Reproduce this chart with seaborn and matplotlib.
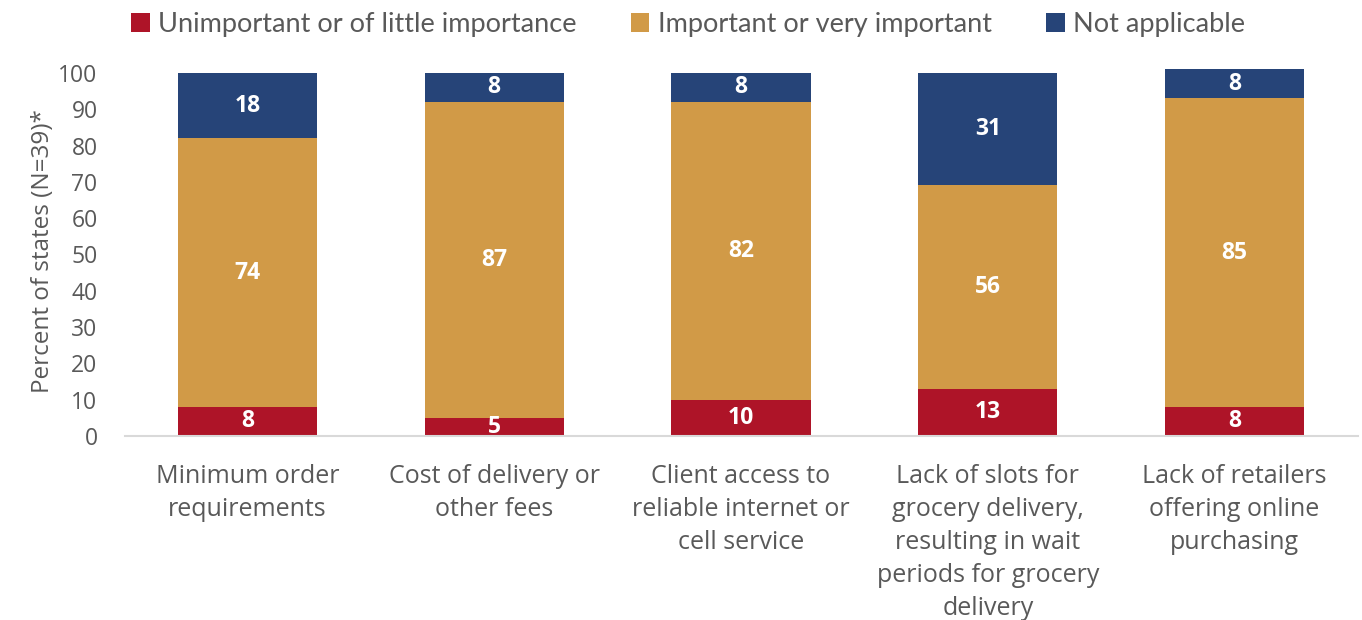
import matplotlib
matplotlib.use("Agg")
import matplotlib.pyplot as plt
import seaborn as sns
import pandas as pd
from matplotlib.patches import Patch

categories = [
    "Minimum order\nrequirements",
    "Cost of delivery or\nother fees",
    "Client access to\nreliable internet or\ncell service",
    "Lack of slots for\ngrocery delivery,\nresulting in wait\nperiods for grocery\ndelivery",
    "Lack of retailers\noffering online\npurchasing",
]
unimportant = [8, 5, 10, 13, 8]
important = [74, 87, 82, 56, 85]
not_applicable = [18, 8, 8, 31, 8]
series_names = ["Unimportant or of little importance", "Important or very important", "Not applicable"]
colors = ["#AE1428", "#D19A47", "#264478"]
yticks = list(range(0, 101, 10))

sns.set_theme(style="white")
plt.rcParams["font.family"] = ["Open Sans", "DejaVu Sans"]
gray = "#595959"

df = pd.DataFrame({"cat": categories, "u": unimportant, "i": important, "n": not_applicable})
df["b2"] = df["u"] + df["i"]

fig = plt.figure(figsize=(13.62, 6.2), dpi=100)
ax = fig.add_axes([0.092, 0.297, 0.905, 0.597])

w = 0.565
sns.barplot(data=df, x="cat", y="u", color=colors[0], width=w, ax=ax, saturation=1, linewidth=0)
sns.barplot(data=df, x="cat", y="i", bottom=df["u"], color=colors[1], width=w, ax=ax, saturation=1, linewidth=0)
sns.barplot(data=df, x="cat", y="n", bottom=df["b2"], color=colors[2], width=w, ax=ax, saturation=1, linewidth=0)

for idx in range(len(categories)):
    segs = [(0, unimportant[idx]), (unimportant[idx], important[idx]), (unimportant[idx] + important[idx], not_applicable[idx])]
    for b, v in segs:
        ax.text(idx, b + v / 2, str(v), ha="center", va="center", color="white",
                fontsize=16.5, fontweight="bold")

ax.set_xlim(-0.495, 4.5)
ax.set_ylim(0, 102)
ax.set_yticks(yticks)
ax.set_yticklabels([str(t) for t in yticks], fontsize=16.5, color=gray)
ax.set_xticks(range(len(categories)))
ax.set_xticklabels(categories, fontsize=18, color=gray, linespacing=1.42)
ax.tick_params(axis="both", length=0)
ax.tick_params(axis="x", pad=20)
ax.tick_params(axis="y", pad=20)
ax.set_xlabel("")
ax.set_ylabel("Percent of states (N=39)*", fontsize=17.5, color=gray, labelpad=2)
for s in ["top", "right", "left"]:
    ax.spines[s].set_visible(False)
ax.spines["bottom"].set_color("#D9D9D9")
ax.spines["bottom"].set_linewidth(1.5)

handles = [Patch(facecolor=c, edgecolor="none") for c in colors]
fig.legend(handles, series_names, loc="upper center", bbox_to_anchor=(0.505, 1.02), ncol=3,
           frameon=False, prop={"family": ["Lato", "DejaVu Sans"], "size": 19.5},
           handlelength=0.7, handleheight=0.7, handletextpad=0.3,
           columnspacing=2.0, labelcolor=gray)

fig.savefig("out.png", dpi=100)
